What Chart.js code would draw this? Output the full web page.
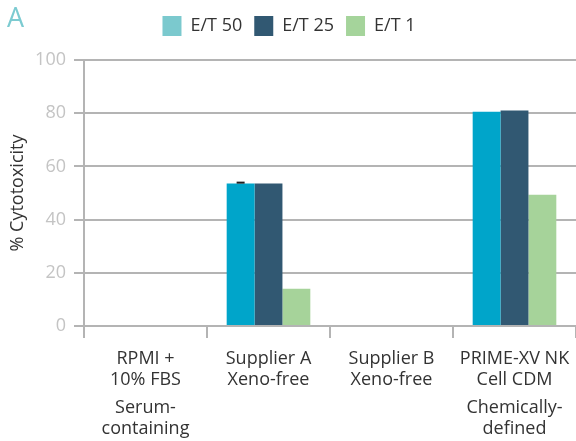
<!DOCTYPE html>
<html>
<head>
<meta charset="utf-8">
<script src="https://cdn.jsdelivr.net/npm/chart.js@4"></script>
<style>
  html, body { margin: 0; padding: 0; background: #fff; }
</style>
</head>
<body>
<canvas id="chart" width="576" height="441"></canvas>
<script>
const categories = [
  ["RPMI +", "10% FBS"],
  ["Supplier A", "Xeno-free"],
  ["Supplier B", "Xeno-free"],
  ["PRIME-XV NK", "Cell CDM"]
];
const mediumTypes = [
  ["Serum-", "containing"],
  "",
  "",
  ["Chemically-", "defined"]
];
const et50 = [null, 53.6, null, 80.5];
const et25 = [null, 53.6, null, 81];
const et1 = [null, 14, null, 49.3];
const et50Err = [0, 0.3, 0, 0];
const yTicks = [0, 20, 40, 60, 80, 100];

const FONT = "'Open Sans', 'Noto Sans', sans-serif";
const labelFont = { family: FONT, size: 18, lineHeight: 1.17 };

/* little panel letter in the corner */
const panelLetter = {
  id: "panelLetter",
  afterDraw(chart) {
    const ctx = chart.ctx;
    ctx.save();
    ctx.fillStyle = "#7ccbd1";
    ctx.font = "27px " + FONT;
    ctx.textBaseline = "alphabetic";
    ctx.fillText("A", 7, 27);
    ctx.restore();
  }
};

/* push the plot down a bit below the legend */
const legendGap = {
  id: "legendGap",
  beforeInit(chart) {
    const fit = chart.legend.fit;
    chart.legend.fit = function () {
      fit.call(this);
      this.height += 14;
    };
  }
};

/* small error cap on top of the bars */
const errorCaps = {
  id: "errorCaps",
  afterDatasetsDraw(chart) {
    const ctx = chart.ctx;
    const y = chart.scales.y;
    const meta = chart.getDatasetMeta(0);
    ctx.save();
    ctx.strokeStyle = "#231f20";
    ctx.lineWidth = 2;
    et50Err.forEach((e, i) => {
      if (!e || et50[i] == null) return;
      const x = meta.data[i].x;
      const top = y.getPixelForValue(et50[i] + e);
      ctx.beginPath();
      ctx.moveTo(x - 4, top);
      ctx.lineTo(x + 4, top);
      ctx.stroke();
    });
    ctx.restore();
  }
};

const legendColors = ["#7bc9ce", "#315872", "#a5d49b"];

// x axes: fixed height, and no extra side padding for the labels
const fitX = h => scale => {
  scale.height = h;
  scale.paddingLeft = 0;
  scale.paddingRight = 0;
};

new Chart(document.getElementById("chart"), {
  type: "bar",
  data: {
    labels: categories,
    datasets: [
      { label: "E/T 50", data: et50, backgroundColor: "#00a5ca" },
      { label: "E/T 25", data: et25, backgroundColor: "#315872" },
      { label: "E/T 1", data: et1, backgroundColor: "#a6d39a" }
    ]
  },
  options: {
    responsive: false,
    animation: false,
    categoryPercentage: 0.68,
    barPercentage: 1.0,
    layout: { padding: { top: 4, right: -2, left: 0, bottom: 0 } },
    plugins: {
      legend: {
        position: "top",
        labels: {
          boxWidth: 19,
          boxHeight: 20,
          padding: 12,
          color: "#333",
          font: { family: FONT, size: 18 },
          generateLabels(chart) {
            return chart.data.datasets.map((ds, i) => ({
              text: ds.label,
              fillStyle: legendColors[i],
              strokeStyle: legendColors[i],
              lineWidth: 0,
              datasetIndex: i,
              fontColor: "#333"
            }));
          }
        }
      },
      tooltip: { enabled: false }
    },
    scales: {
      x: {
        grid: {
          offset: true,
          drawOnChartArea: false,
          drawTicks: true,
          tickLength: 12,
          color: "#b4b4b4",
          lineWidth: 2
        },
        border: { display: false },
        ticks: {
          color: "#333",
          padding: 10,
          maxRotation: 0,
          autoSkip: false,
          font: labelFont
        },
        afterFit: fitX(66)
      },
      x2: {
        type: "category",
        position: "bottom",
        labels: mediumTypes,
        offset: true,
        grid: { display: false, drawTicks: false },
        border: { display: false },
        ticks: {
          color: "#333",
          padding: 5,
          maxRotation: 0,
          autoSkip: false,
          font: labelFont
        },
        afterFit: fitX(49)
      },
      y: {
        min: 0,
        max: 100,
        afterBuildTicks(scale) {
          scale.ticks = yTicks.map(v => ({ value: v }));
        },
        grid: {
          color: "#b4b4b4",
          lineWidth: 2,
          tickLength: 10
        },
        border: { color: "#b4b4b4", width: 2 },
        ticks: {
          color: "#c4c4c4",
          padding: 8,
          font: { family: FONT, size: 18 }
        },
        title: {
          display: true,
          text: "% Cytotoxicity",
          color: "#333",
          padding: { top: 7, bottom: 4 },
          font: { family: FONT, size: 18 }
        },
        afterFit(scale) { scale.width = 84; }
      }
    }
  },
  plugins: [legendGap, panelLetter, errorCaps]
});
</script>
</body>
</html>
